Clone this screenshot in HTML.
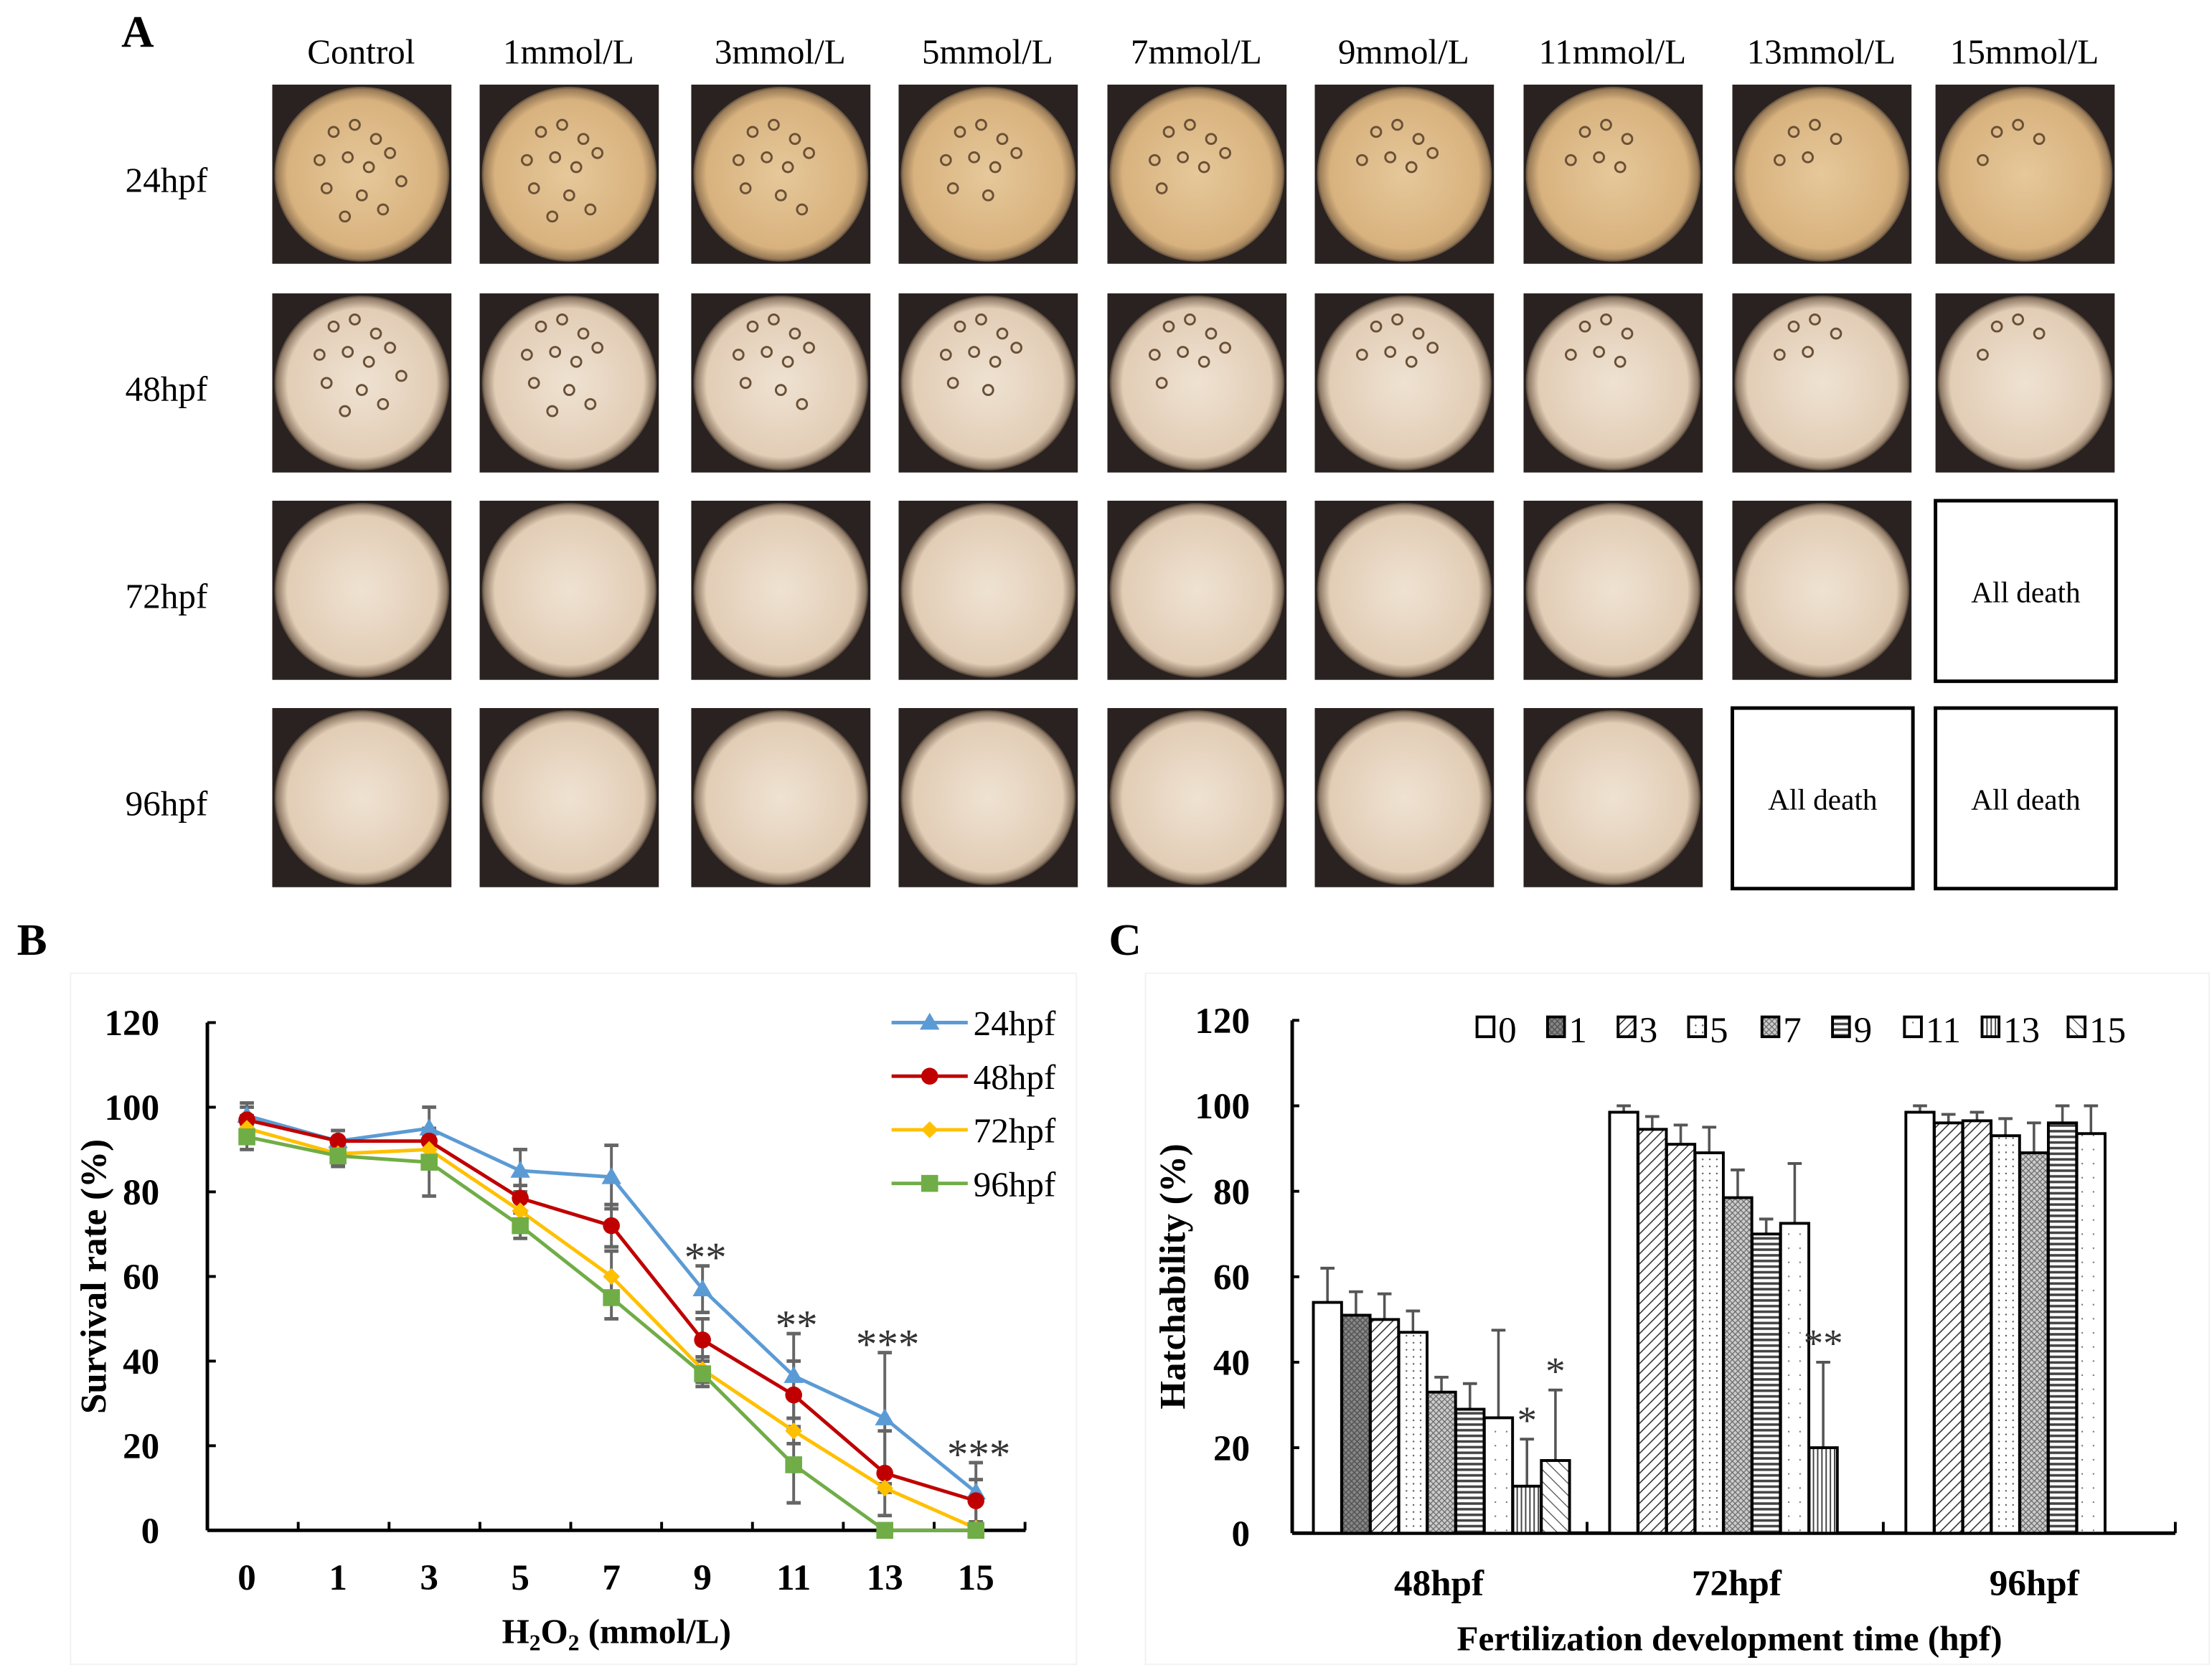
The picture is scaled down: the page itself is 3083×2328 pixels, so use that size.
<!DOCTYPE html>
<html><head><meta charset="utf-8"><style>
html,body{margin:0;padding:0;background:#fff}
svg{display:block;font-family:"Liberation Serif",serif}
</style></head><body>
<svg id="fig" width="3083" height="2328" viewBox="0 0 1568 1184" xmlns="http://www.w3.org/2000/svg">
<defs>
<radialGradient id="dishA" cx="50%" cy="50%" r="50%"><stop offset="0" stop-color="#e6c89a"/><stop offset="0.85" stop-color="#d8b27e"/><stop offset="0.97" stop-color="#9a7c58"/><stop offset="1" stop-color="#5a4a3a"/></radialGradient>
<radialGradient id="dishB" cx="50%" cy="50%" r="50%"><stop offset="0" stop-color="#efe2d2"/><stop offset="0.85" stop-color="#e2cdb6"/><stop offset="0.97" stop-color="#8e7a66"/><stop offset="1" stop-color="#4a3e34"/></radialGradient>
<pattern id="p1" width="4" height="4" patternUnits="userSpaceOnUse"><rect width="4" height="4" fill="#888"/><path d="M0 0L4 4M4 0L0 4" stroke="#555" stroke-width="0.8"/></pattern>
<pattern id="p3" width="5" height="5" patternUnits="userSpaceOnUse" patternTransform="rotate(45)"><rect width="5" height="5" fill="#fff"/><line x1="0" y1="0" x2="0" y2="5" stroke="#333" stroke-width="1.6"/></pattern>
<pattern id="p5" width="5" height="5" patternUnits="userSpaceOnUse"><rect width="5" height="5" fill="#fff"/><circle cx="2" cy="2" r="0.6" fill="#555"/></pattern>
<pattern id="p7" width="4" height="4" patternUnits="userSpaceOnUse"><rect width="4" height="4" fill="#ccc"/><path d="M0 0L4 4M4 0L0 4" stroke="#666" stroke-width="0.6"/></pattern>
<pattern id="p9" width="4" height="4" patternUnits="userSpaceOnUse"><rect width="4" height="4" fill="#fff"/><line x1="0" y1="2" x2="4" y2="2" stroke="#444" stroke-width="1.8"/></pattern>
<pattern id="p11" width="8" height="10" patternUnits="userSpaceOnUse"><rect width="8" height="10" fill="#fff"/><circle cx="4" cy="5" r="0.6" fill="#777"/></pattern>
<pattern id="p13" width="3" height="3" patternUnits="userSpaceOnUse"><rect width="3" height="3" fill="#fff"/><line x1="1.5" y1="0" x2="1.5" y2="3" stroke="#444" stroke-width="1"/></pattern>
<pattern id="p15" width="6" height="6" patternUnits="userSpaceOnUse" patternTransform="rotate(-45)"><rect width="6" height="6" fill="#fff"/><line x1="0" y1="0" x2="0" y2="6" stroke="#444" stroke-width="1.2"/></pattern>
</defs>
<g id="panelA"></g>
<g id="panelB"></g>
<g id="panelC"></g>
</svg>
<script>
const NS="http://www.w3.org/2000/svg";
function mk(p,t,a,txt){const e=document.createElementNS(NS,t);for(const k in a)e.setAttribute(k,a[k]);if(txt!==undefined)e.textContent=txt;p.appendChild(e);return e;}

// ---------- Panel A ----------
const concLabels=["Control","1mmol/L","3mmol/L","5mmol/L","7mmol/L","9mmol/L","11mmol/L","13mmol/L","15mmol/L"];
const rowLabels=["24hpf","48hpf","72hpf","96hpf"];
const colX=[193,340,490,637,785,932,1080,1228,1372];
const rowY=[60,208,355,502];
const embryoOffsets=[[-20,-30],[-5,-35],[10,-25],[-30,-10],[-10,-12],[5,-5],[20,-15],[-25,10],[0,15],[15,25],[-12,30],[28,5]];
const A=document.getElementById('panelA');
let t=mk(A,'text',{x:86,y:33,'font-size':32,'font-weight':'bold'},'A');


concLabels.forEach((c,i)=>{
  const e=mk(A,'text',{x:colX[i]+63,y:45,'font-size':25,'text-anchor':'middle'},c);
  
  
});
rowLabels.forEach((r,j)=>{
  const e=mk(A,'text',{x:118,y:rowY[j]+76,'font-size':25,'text-anchor':'middle'},r);
  
  
});
const dead={"2-8":1,"3-7":1,"3-8":1};
rowY.forEach((y,j)=>{colX.forEach((x,i)=>{
  const g=mk(A,'g',{});
  if(dead[j+'-'+i]){
    
    
    mk(g,'rect',{x:x,y:y,width:128,height:128,fill:'#fff',stroke:'#000','stroke-width':2.5});
    mk(g,'text',{x:x+64,y:y+72,'font-size':21,'text-anchor':'middle'},'All death');
  } else {
    
    
    mk(g,'rect',{x:x,y:y,width:127,height:127,fill:'#2a2220'});
    mk(g,'circle',{cx:x+63.5,cy:y+63.5,r:62,fill:j==0?'url(#dishA)':'url(#dishB)'});
    if(j<2){const n=Math.max(2,12-i);
      embryoOffsets.slice(0,n).forEach(o=>mk(g,'circle',{cx:x+63.5+o[0],cy:y+63.5+o[1]-(j==0?0:10),r:3.5,fill:'none',stroke:'#6a5036','stroke-width':1.5}));}
  }
});});

// ---------- Panel B ----------
const bCats=["0","1","3","5","7","9","11","13","15"];
const bYTicks=[0,20,40,60,80,100,120];
const s24=[98,92,95,85,83.5,57,36.5,26.5,9];
const s48=[97,92,92,78.5,72,45,32,13.5,7];
const s72=[95,89,90,75.5,60,38,23.5,10,0.5];
const s96=[93,88.5,87,72,55,37,15.5,0,0];
const e24=[3,2.5,5,5,7.5,5.5,10,15.5,7];
const e48=[3,2.5,2,3,5,5,8,10,5];
const e72=[3,2.5,3,3,6,3,3,1,0.5];
const e96=[3,2.5,8,3,5,3,9,0,0];
const bSig=["","","","","","**","**","***","***"];
const B=document.getElementById('panelB');
const bx=i=>175+i*64.6, by=v=>1085-v*3;
t=mk(B,'text',{x:12,y:677,'font-size':32,'font-weight':'bold'},'B');


mk(B,'rect',{x:50,y:690,width:713,height:490,fill:'none',stroke:'#f2f2f2','stroke-width':1});
const bAx=mk(B,'g',{});


mk(bAx,'line',{x1:147,y1:by(0),x2:147,y2:by(120),stroke:'#000','stroke-width':2.5});
bYTicks.forEach(v=>{mk(bAx,'line',{x1:147,y1:by(v),x2:153,y2:by(v),stroke:'#000','stroke-width':2});
  const e=mk(bAx,'text',{x:113,y:by(v)+9,'font-size':26,'font-weight':'bold','text-anchor':'end'},v);
  
  });
const bXa=mk(B,'g',{});


mk(bXa,'line',{x1:147,y1:by(0),x2:727,y2:by(0),stroke:'#000','stroke-width':2.5});
for(let k=1;k<=9;k++){const xx=147+k*64.4;mk(bXa,'line',{x1:xx,y1:by(0),x2:xx,y2:by(0)-6,stroke:'#000','stroke-width':2});}
bCats.forEach((c,i)=>{const e=mk(bXa,'text',{x:bx(i),y:1127,'font-size':26,'font-weight':'bold','text-anchor':'middle'},c);
  
  });
t=mk(B,'text',{x:0,y:0,'font-size':26,'font-weight':'bold','text-anchor':'middle',transform:'translate(75,905) rotate(-90)'},'Survival rate (%)');


t=mk(B,'text',{x:437,y:1165,'font-size':25,'font-weight':'bold','text-anchor':'middle'});


t.innerHTML='H<tspan font-size="16" dy="5">2</tspan><tspan dy="-5">O</tspan><tspan font-size="16" dy="5">2</tspan><tspan dy="-5"> (mmol/L)</tspan>';
const series=[["24hpf",s24,e24,"#5b9bd5","tri"],["48hpf",s48,e48,"#c00000","circ"],["72hpf",s72,e72,"#ffc000","dia"],["96hpf",s96,e96,"#70ad47","sq"]];
function marker(g,type,x,y,col){
  if(type=="tri")mk(g,'path',{d:`M${x} ${y-7}L${x+7} ${y+5}L${x-7} ${y+5}Z`,fill:col});
  else if(type=="circ")mk(g,'circle',{cx:x,cy:y,r:6,fill:col});
  else if(type=="dia")mk(g,'path',{d:`M${x} ${y-6}L${x+6} ${y}L${x} ${y+6}L${x-6} ${y}Z`,fill:col});
  else mk(g,'rect',{x:x-6,y:y-6,width:12,height:12,fill:col});
}
series.forEach(([name,vals,errs,col,type])=>{
  const g=mk(B,'g',{});
  
  
  vals.forEach((v,i)=>{if(errs[i]>0){mk(g,'line',{x1:bx(i),y1:by(v-errs[i]),x2:bx(i),y2:by(v+errs[i]),stroke:'#666','stroke-width':2});
    [v-errs[i],v+errs[i]].forEach(w=>mk(g,'line',{x1:bx(i)-5,y1:by(w),x2:bx(i)+5,y2:by(w),stroke:'#666','stroke-width':2.5}));}});
});
series.forEach(([name,vals,errs,col,type])=>{
  const g=mk(B,'g',{});
  
  
  mk(g,'polyline',{points:vals.map((v,i)=>bx(i)+','+by(v)).join(' '),fill:'none',stroke:col,'stroke-width':2.5});
  vals.forEach((v,i)=>marker(g,type,bx(i),by(v),col));
});
bSig.forEach((s,i)=>{if(s){const top=Math.max(s24[i]+e24[i],s48[i]+e48[i]);
  const e=mk(B,'text',{x:bx(i)+2,y:by(top)+4,'font-size':30,'text-anchor':'middle',fill:'#333'},s);
  
  }});
series.forEach(([name,vals,errs,col,type],k)=>{
  const g=mk(B,'g',{});
  
  
  const y=725+k*38;
  mk(g,'line',{x1:632,y1:y,x2:686,y2:y,stroke:col,'stroke-width':2.5});
  marker(g,type,659,y,col);
  mk(g,'text',{x:690,y:y+9,'font-size':25},name);
});

// ---------- Panel C ----------
const cGroups=["48hpf","72hpf","96hpf"];
const cConc=["0","1","3","5","7","9","11","13","15"];
const cFill=["#fff","url(#p1)","url(#p3)","url(#p5)","url(#p7)","url(#p9)","url(#p11)","url(#p13)","url(#p15)"];
const h48=[54,51,50,47,33,29,27,11,17];
const h72=[98.5,94.5,91,89,78.5,70,72.5,20,null];
const h96=[98.5,96,96.5,93,89,96,93.5,null,null];
const he48=[8,5.5,6,5,3.5,6,20.5,11,16.5];
const he72=[1.5,3,4.5,6,6.5,3.5,14,20,0];
const he96=[1.5,2,2,4,7,4,6.5,0,0];
const cSig48=["","","","","","","","*","*"];
const cSig72=["","","","","","","","**",""];
const cHeights=[h48,h72,h96], cErrs=[he48,he72,he96], cSigs=[cSig48,cSig72,["","","","","","","","",""]];
const cBarOrder=[[0,1,2,3,4,5,6,7,8],[0,2,2,3,4,5,6,7,8],[0,2,2,3,4,5,6,7,8]];
const C=document.getElementById('panelC');
const cy=v=>1087-v*3.03, gx=(g,i)=>931+g*210+i*20.2;
t=mk(C,'text',{x:786,y:677,'font-size':32,'font-weight':'bold'},'C');


mk(C,'rect',{x:812,y:690,width:754,height:490,fill:'none',stroke:'#f2f2f2','stroke-width':1});
const cAx=mk(C,'g',{});


mk(cAx,'line',{x1:916,y1:cy(0),x2:916,y2:cy(120),stroke:'#000','stroke-width':2.5});
bYTicks.forEach(v=>{mk(cAx,'line',{x1:916,y1:cy(v),x2:921,y2:cy(v),stroke:'#000','stroke-width':2});
  const e=mk(cAx,'text',{x:886,y:cy(v)+9,'font-size':26,'font-weight':'bold','text-anchor':'end'},v);
  
  });
const cXa=mk(C,'g',{});


mk(cXa,'line',{x1:916,y1:cy(0),x2:1542,y2:cy(0),stroke:'#000','stroke-width':2.5});
[1125,1335,1542].forEach(x=>mk(cXa,'line',{x1:x,y1:cy(0),x2:x,y2:cy(0)-8,stroke:'#000','stroke-width':2}));
cGroups.forEach((g,k)=>{const e=mk(cXa,'text',{x:1020+k*211,y:1131,'font-size':26,'font-weight':'bold','text-anchor':'middle'},g);
  
  });
t=mk(C,'text',{x:0,y:0,'font-size':26,'font-weight':'bold','text-anchor':'middle',transform:'translate(840,905) rotate(-90)'},'Hatchability (%)');


t=mk(C,'text',{x:1226,y:1170,'font-size':25,'font-weight':'bold','text-anchor':'middle'},'Fertilization development time (hpf)');


cHeights.forEach((vals,g)=>{
  vals.forEach((v,i)=>{if(v===null)return;
    const x=gx(g,i);
    const err=cErrs[g][i];
    if(err>0){mk(C,'line',{x1:x+10,y1:cy(v),x2:x+10,y2:cy(v+err),stroke:'#555','stroke-width':1.8});
      mk(C,'line',{x1:x+5,y1:cy(v+err),x2:x+15,y2:cy(v+err),stroke:'#555','stroke-width':2});}
    const r=mk(C,'rect',{x:x,y:cy(v),width:20,height:v*3.03,fill:cFill[cBarOrder[g][i]],stroke:'#000','stroke-width':2});
    
    
    const s=cSigs[g][i];
    if(s){const e=mk(C,'text',{x:x+10,y:cy(v+err)-4,'font-size':28,'text-anchor':'middle',fill:'#333'},s);
      
      }
  });
});
const legX=[1047,1097,1147,1197,1249,1299,1350,1405,1466];
cConc.forEach((c,i)=>{
  const g=mk(C,'g',{});
  
  
  mk(g,'rect',{x:legX[i],y:721,width:12,height:14,fill:cFill[i],stroke:'#000','stroke-width':2});
  mk(g,'text',{x:legX[i]+15,y:739,'font-size':26},c);
});
</script>
</body></html>
